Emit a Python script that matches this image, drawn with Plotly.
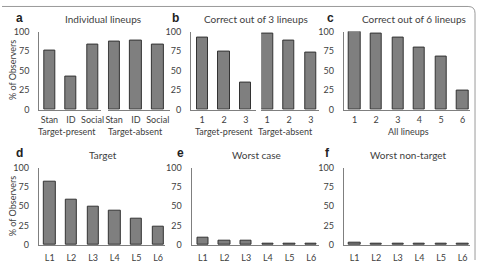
import plotly.graph_objects as go

W, H = 481, 265

# ---- data ----
a_labels = ["Stan", "ID", "Social"]
a_present = [76, 42, 83]
a_absent = [87, 89, 83]
b_labels = ["1", "2", "3"]
b_present = [92, 75, 35]
b_absent = [97, 89, 73]
c_labels = ["1", "2", "3", "4", "5", "6"]
c_vals = [100, 97, 92, 80, 68, 24]
l_labels = ["L1", "L2", "L3", "L4", "L5", "L6"]
d_vals = [82, 59, 49, 44, 34, 24]
e_vals = [10, 6, 6, 1, 1, 1]
f_vals = [3, 1, 1, 1, 1, 1]
y_ticks = [0, 25, 50, 75, 100]

FONT = "Lato"
TXT = "#404040"
AX = "#7f7f7f"

def fx(p):
    return p / W

def fy(p):
    return 1 - p / H

top_dom = [fy(108.3), fy(26.7)]
bot_dom = [fy(249.3), fy(168.7)]

# panel definitions: (name, labels, values, x px domain, x range, y dom, show y, x label standoff)
panels = [
    ("1", a_labels, a_present, (37.7, 100), (-0.47, 2.39), top_dom, True, 1),
    ("2", a_labels, a_absent, (107, 170), (-0.286, 2.571), top_dom, False, 1),
    ("3", b_labels, b_present, (191, 256.7), (-0.514, 2.472), top_dom, True, 1),
    ("4", b_labels, b_absent, (262, 320), (-0.273, 2.364), top_dom, False, 1),
    ("5", c_labels, c_vals, (345.3, 473), (-0.504, 5.343), top_dom, True, 1),
    ("6", l_labels, d_vals, (37.2, 165), (-0.502, 5.33), bot_dom, True, 4),
    ("7", l_labels, e_vals, (191.5, 320), (-0.525, 5.342), bot_dom, True, 4),
    ("8", l_labels, f_vals, (345.3, 473), (-0.504, 5.343), bot_dom, True, 4),
]

fig = go.Figure()
layout = dict(
    width=W, height=H,
    margin=dict(l=0, r=0, t=0, b=0),
    paper_bgcolor="white", plot_bgcolor="white",
    showlegend=False,
    font=dict(family=FONT, size=9, color=TXT),
    bargap=0,
)

for name, labels, vals, (x0, x1), rng, ydom, showy, xso in panels:
    xs = list(range(len(labels)))
    xa = "x" if name == "1" else "x" + name
    ya = "y" if name == "1" else "y" + name
    fig.add_trace(go.Bar(
        x=xs, y=vals, xaxis=xa, yaxis=ya, width=0.52,
        marker=dict(color="#7f7f7f", line=dict(color="#333333", width=1)),
        hoverinfo="skip",
    ))
    key = "" if name == "1" else name
    layout["xaxis" + key] = dict(
        domain=[fx(x0), fx(x1)], range=list(rng), anchor=ya,
        tickmode="array", tickvals=xs, ticktext=labels,
        showline=True, linecolor=AX, linewidth=1,
        showgrid=False, zeroline=False, ticks="", ticklabelstandoff=xso,
        tickfont=dict(size=9, color=TXT, family=FONT), fixedrange=True,
    )
    layout["yaxis" + key] = dict(
        domain=ydom, range=[0, 100], anchor=xa,
        tickmode="array", tickvals=y_ticks,
        showline=showy, linecolor=AX, linewidth=1,
        showticklabels=showy, ticklabelstandoff=7,
        showgrid=False, zeroline=False, ticks="",
        tickfont=dict(size=9, color=TXT, family=FONT), fixedrange=True,
    )

fig.update_layout(**layout)

ann = []
def text(x, y, s, size=10, bold=False, angle=0, xanchor="center", fam=FONT):
    ann.append(dict(
        x=fx(x), y=fy(y), xref="paper", yref="paper", text=s, showarrow=False,
        xanchor=xanchor, yanchor="middle", textangle=angle,
        font=dict(size=size, color="#222222" if bold else TXT, family=fam),
    ))

# titles
text(102.5, 14, "Individual lineups", 10)
text(256.5, 14, "Correct out of 3 lineups", 10)
text(416, 14, "Correct out of 6 lineups", 10)
text(101.7, 155.5, "Target", 10)
text(257, 155.5, "Worst case", 10)
text(410.7, 155.5, "Worst non-target", 10)
# panel letters
for x, y, s in [(12.5, 13, "a"), (169.5, 13, "b"), (326, 13, "c"),
                (12.5, 153.5, "d"), (174.5, 153.5, "e"), (324.5, 153.5, "f")]:
    text(x, y, "<b>%s</b>" % s, 12, bold=True, xanchor="left", fam="Liberation Sans")
# group labels
text(66, 131, "Target-present", 9)
text(135, 131, "Target-absent", 9)
text(224, 131, "Target-present", 9)
text(286, 131, "Target-absent", 9)
text(411, 131, "All lineups", 9)
# y titles
text(10, 67, "% of Observers", 9, angle=-90)
text(10, 209, "% of Observers", 9, angle=-90)

fig.update_layout(annotations=ann)

# frame (top edge and rounded top-right corner)
fig.add_shape(
    type="path", xref="paper", yref="paper",
    path="M 0,%f L %f,%f Q %f,%f %f,%f L %f,0" % (
        fy(0.5), fx(471), fy(0.5), fx(478), fy(0.5), fx(478), fy(7.5), fx(478)),
    line=dict(color="#9a9a9a", width=1),
)

fig.write_html("out.html")
